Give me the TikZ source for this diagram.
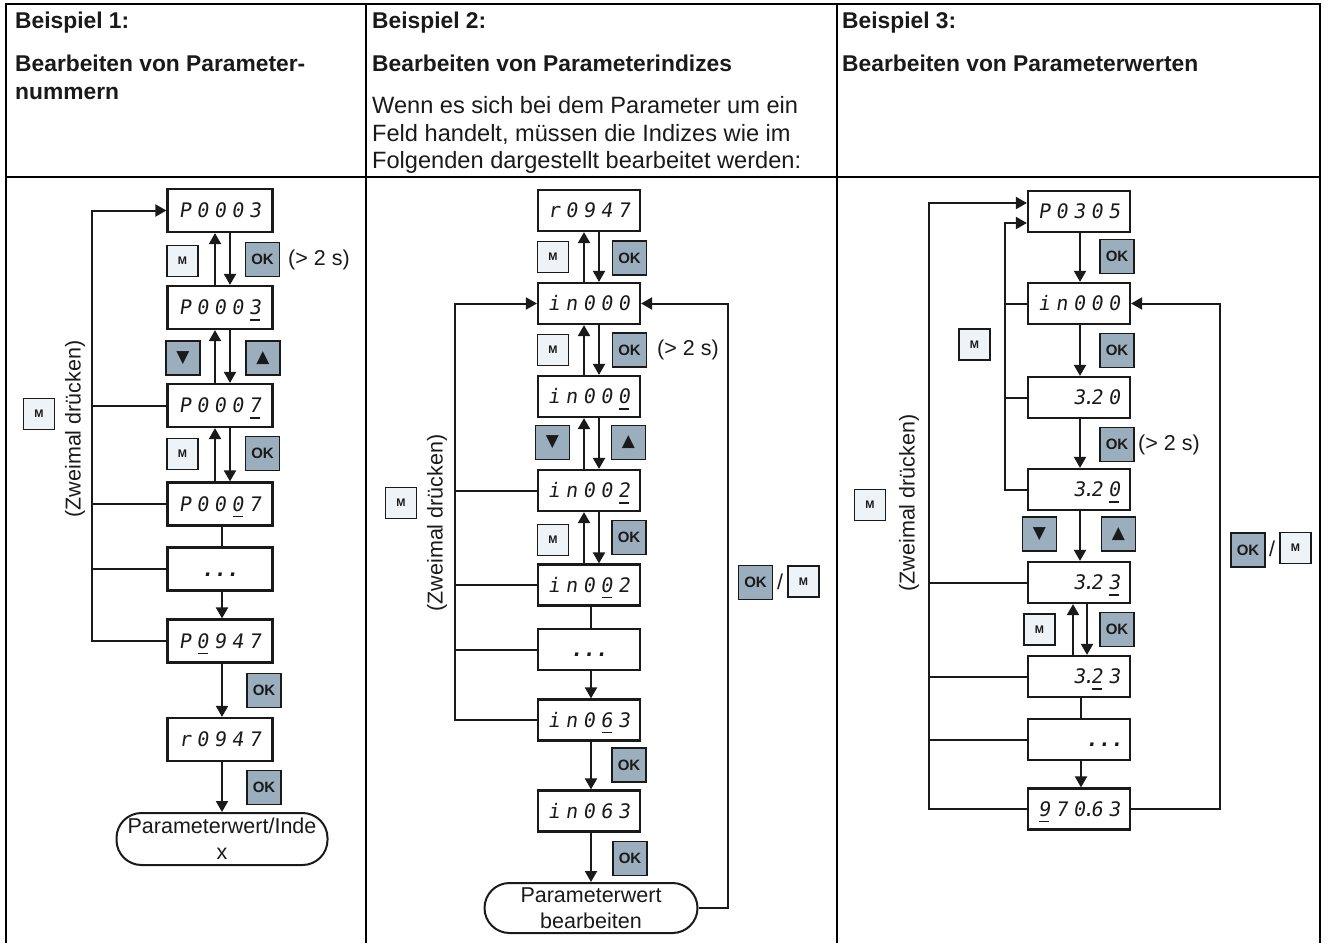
\documentclass[tikz,border=0pt]{standalone}
\usepackage{fontspec}
\setmainfont{Liberation Sans}
\newfontfamily\dispfont{DejaVu Sans Mono}[FakeSlant=0.15]
\newfontfamily\symfont{DejaVu Sans}
\usetikzlibrary{arrows.meta}
\definecolor{btnlight}{HTML}{EEF3F8}
\definecolor{btndark}{HTML}{9BAEBD}
\definecolor{ink}{HTML}{1A1A1A}
\newcommand\sgc[1]{\makebox[17.5pt][c]{#1}}
\newcommand\sgu[1]{\makebox[17.5pt][c]{\ooalign{#1\cr\hidewidth\raisebox{-6pt}{\rule{10pt}{1.8pt}}\hidewidth\cr}}}
\newcommand\sgp[1]{\makebox[17.5pt][c]{#1\rlap{\kern-3pt.}}}
\newcommand\sgdots{{\bfseries\makebox[12.5pt]{.}\makebox[12.5pt]{.}\makebox[12.5pt]{.}}}
\begin{document}
\begin{tikzpicture}[x=1pt,y=-1pt,
  every node/.style={font=\fontsize{21.5}{26}\selectfont, text=ink},
  tbl/.style={draw=black, line width=2.6pt},
  hdr/.style={anchor=base west, inner sep=0pt, font=\bfseries\fontsize{22.8}{26}\selectfont},
  body/.style={anchor=base west, inner sep=0pt, font=\fontsize{23.6}{28}\selectfont},
  disp/.style={draw=ink, line width=2.2pt, minimum width=102pt, minimum height=41pt, inner sep=0pt,
    font=\dispfont\fontsize{20}{20}\selectfont, text height=14.6pt, text depth=0pt},
  dispA/.style={disp, minimum width=105pt, minimum height=43pt},
  dispR/.style={disp, text width=88pt, align=right},
  mbtn/.style={draw=ink, line width=1.6pt, fill=btnlight, minimum width=31pt, minimum height=31pt,
    inner sep=0pt, font=\bfseries\fontsize{11}{11}\selectfont},
  okbtn/.style={draw=ink, line width=1.6pt, fill=btndark, minimum width=34pt, minimum height=34pt,
    inner sep=0pt, font=\bfseries\fontsize{15}{15}\selectfont},
  tribtn/.style={okbtn, font=\symfont\fontsize{17}{17}\selectfont},
  term/.style={draw=ink, line width=2pt, rounded corners=25pt, minimum width=211pt, minimum height=52pt,
    inner sep=0pt, align=center, font=\fontsize{21.5}{26}\selectfont},
  lbl/.style={inner sep=0pt},
  ln/.style={draw=ink, line width=2pt},
  arr/.style={ln, -{Triangle[length=11pt,width=12pt]}}
]
\fill[white] (0,0) rectangle (1330,943);
\useasboundingbox (0,0) rectangle (1330,943);

% table
\draw[tbl] (6,943) -- (6,4) -- (1320,4) -- (1320,943);
\draw[tbl] (6,177) -- (1320,177);
\draw[tbl] (366,4) -- (366,943);
\draw[tbl] (837,4) -- (837,943);

% headers
\node[hdr] (h1a) at (15,28) {Beispiel 1:};
\node[hdr] (h1b) at (15,71) {Bearbeiten von Parameter-};
\node[hdr] (h1c) at (15,99) {nummern};
\node[hdr] (h2a) at (372,28) {Beispiel 2:};
\node[hdr] (h2b) at (372,71) {Bearbeiten von Parameterindizes};
\node[body] (h2c) at (372,113) {Wenn es sich bei dem Parameter um ein};
\node[body] (h2d) at (372,141) {Feld handelt, müssen die Indizes wie im};
\node[body] (h2e) at (372,168) {Folgenden dargestellt bearbeitet werden:};
\node[hdr] (h3a) at (842,28) {Beispiel 3:};
\node[hdr] (h3b) at (842,71) {Bearbeiten von Parameterwerten};

% ================= column 1
\node[dispA] (a1) at (220,210.5) {\sgc{P}\sgc{0}\sgc{0}\sgc{0}\sgc{3}};
\node[dispA] (a2) at (220,307.5) {\sgc{P}\sgc{0}\sgc{0}\sgc{0}\sgu{3}};
\node[dispA] (a3) at (220,405.5) {\sgc{P}\sgc{0}\sgc{0}\sgc{0}\sgu{7}};
\node[dispA] (a4) at (220,504) {\sgc{P}\sgc{0}\sgc{0}\sgu{0}\sgc{7}};
\node[dispA] (a5) at (220,569) {\sgdots};
\node[dispA] (a6) at (220,641) {\sgc{P}\sgu{0}\sgc{9}\sgc{4}\sgc{7}};
\node[dispA] (a7) at (220,739.5) {\sgc{r}\sgc{0}\sgc{9}\sgc{4}\sgc{7}};
\node[term] (a8) at (222,839) {Parameterwert/Inde\\x};

\draw[arr] ([xshift=-5pt]a2.north) -- ([xshift=-5pt]a1.south);
\draw[arr] ([xshift=10pt]a1.south) -- ([xshift=10pt]a2.north);
\draw[arr] ([xshift=-5pt]a3.north) -- ([xshift=-5pt]a2.south);
\draw[arr] ([xshift=10pt]a2.south) -- ([xshift=10pt]a3.north);
\draw[arr] ([xshift=-5pt]a4.north) -- ([xshift=-5pt]a3.south);
\draw[arr] ([xshift=10pt]a3.south) -- ([xshift=10pt]a4.north);
\draw[ln] ([xshift=2pt]a4.south) -- ([xshift=2pt]a5.north);
\draw[arr] ([xshift=2pt]a5.south) -- ([xshift=2pt]a6.north);
\draw[arr] ([xshift=2pt]a6.south) -- ([xshift=2pt]a7.north);
\draw[arr] ([xshift=2pt]a7.south) -- (a8.north);

\coordinate (L1) at (92,210.5);
\draw[arr] (a6.west) -| (L1) -- (a1.west);
\draw[ln] (a3.west) -- (a3.west -| L1);
\draw[ln] (a4.west) -- (a4.west -| L1);
\draw[ln] (a5.west) -- (a5.west -| L1);

\node[lbl, rotate=90] (z1) at (75,429) {(Zweimal drücken)};
\node[mbtn] (m1) at (39,414) {M};

\node[mbtn] (b1) at (182.5,261) {M};
\node[okbtn] (b2) at (262.5,259.5) {OK};
\node[lbl, anchor=west] (t1) at (288,260) {(> 2 s)};
\node[tribtn] (b3) at (183,358) {▼};
\node[tribtn] (b4) at (263,358) {▲};
\node[mbtn] (b5) at (182.5,454) {M};
\node[okbtn] (b6) at (262.5,453.5) {OK};
\node[okbtn] (b7) at (264,690.5) {OK};
\node[okbtn] (b8) at (264,787.5) {OK};

% ================= column 2
\node[disp] (c1) at (589,210.5) {\sgc{r}\sgc{0}\sgc{9}\sgc{4}\sgc{7}};
\node[disp] (c2) at (589,303.5) {\sgc{i}\sgc{n}\sgc{0}\sgc{0}\sgc{0}};
\node[disp] (c3) at (589,396.5) {\sgc{i}\sgc{n}\sgc{0}\sgc{0}\sgu{0}};
\node[disp] (c4) at (589,490.5) {\sgc{i}\sgc{n}\sgc{0}\sgc{0}\sgu{2}};
\node[disp] (c5) at (589,585) {\sgc{i}\sgc{n}\sgc{0}\sgu{0}\sgc{2}};
\node[disp] (c6) at (589,649.5) {\sgdots};
\node[disp] (c7) at (589,720) {\sgc{i}\sgc{n}\sgc{0}\sgu{6}\sgc{3}};
\node[disp] (c8) at (589,811) {\sgc{i}\sgc{n}\sgc{0}\sgc{6}\sgc{3}};
\node[term, minimum width=213pt, minimum height=50pt] (c9) at (591,908) {Parameterwert\\bearbeiten};

\draw[arr] ([xshift=-5pt]c2.north) -- ([xshift=-5pt]c1.south);
\draw[arr] ([xshift=10pt]c1.south) -- ([xshift=10pt]c2.north);
\draw[arr] ([xshift=-5pt]c3.north) -- ([xshift=-5pt]c2.south);
\draw[arr] ([xshift=10pt]c2.south) -- ([xshift=10pt]c3.north);
\draw[arr] ([xshift=-5pt]c4.north) -- ([xshift=-5pt]c3.south);
\draw[arr] ([xshift=10pt]c3.south) -- ([xshift=10pt]c4.north);
\draw[arr] ([xshift=-5pt]c5.north) -- ([xshift=-5pt]c4.south);
\draw[arr] ([xshift=10pt]c4.south) -- ([xshift=10pt]c5.north);
\draw[ln] ([xshift=2pt]c5.south) -- ([xshift=2pt]c6.north);
\draw[arr] ([xshift=2pt]c6.south) -- ([xshift=2pt]c7.north);
\draw[arr] ([xshift=2pt]c7.south) -- ([xshift=2pt]c8.north);
\draw[arr] ([xshift=2pt]c8.south) -- (c9.north);

\coordinate (L2) at (455,303.5);
\draw[arr] (c7.west) -| (L2) -- (c2.west);
\draw[ln] (c4.west) -- (c4.west -| L2);
\draw[ln] (c5.west) -- (c5.west -| L2);
\draw[ln] (c6.west) -- (c6.west -| L2);
\coordinate (R2) at (728,303.5);
\draw[arr] (c9.east) -| (R2) -- (c2.east);

\node[lbl, rotate=90] (z2) at (437,523) {(Zweimal drücken)};
\node[mbtn] (m2) at (401,503) {M};

\node[mbtn] (e1) at (553,257) {M};
\node[okbtn] (e2) at (629.5,258) {OK};
\node[mbtn] (e3) at (553,350) {M};
\node[okbtn] (e4) at (629.5,350) {OK};
\node[lbl, anchor=west] (t2) at (657,350) {(> 2 s)};
\node[tribtn] (e5) at (552.5,442.5) {▼};
\node[tribtn] (e6) at (628.5,442.5) {▲};
\node[mbtn] (e7) at (553,540) {M};
\node[okbtn] (e8) at (629,537.5) {OK};
\node[okbtn] (e9) at (629,765) {OK};
\node[okbtn] (e10) at (630,858.5) {OK};
\node[okbtn] (e11) at (755.5,582.5) {OK};
\node[lbl] (s2) at (780,582) {/};
\node[mbtn] (e12) at (803.5,581.5) {M};

% ================= column 3
\node[dispR] (d1) at (1079,211.5) {\sgc{P}\sgc{0}\sgc{3}\sgc{0}\sgc{5}};
\node[dispR] (d2) at (1079,303.5) {\sgc{i}\sgc{n}\sgc{0}\sgc{0}\sgc{0}};
\node[dispR] (d3) at (1079,397.5) {\sgp{3}\sgc{2}\sgc{0}};
\node[dispR] (d4) at (1079,489.5) {\sgp{3}\sgc{2}\sgu{0}};
\node[dispR] (d5) at (1079,582.5) {\sgp{3}\sgc{2}\sgu{3}};
\node[dispR] (d6) at (1079,676.5) {\sgp{3}\sgu{2}\sgc{3}};
\node[dispR] (d7) at (1079,739.5) {\sgdots};
\node[dispR] (d8) at (1079,809) {\sgu{9}\sgc{7}\sgp{0}\sgc{6}\sgc{3}};

\draw[arr] ([xshift=1pt]d1.south) -- ([xshift=1pt]d2.north);
\draw[arr] ([xshift=1pt]d2.south) -- ([xshift=1pt]d3.north);
\draw[arr] ([xshift=1pt]d3.south) -- ([xshift=1pt]d4.north);
\draw[arr] ([xshift=1pt]d4.south) -- ([xshift=1pt]d5.north);
\draw[arr] ([xshift=-6pt]d6.north) -- ([xshift=-6pt]d5.south);
\draw[arr] ([xshift=8pt]d5.south) -- ([xshift=8pt]d6.north);
\draw[ln] ([xshift=2pt]d6.south) -- ([xshift=2pt]d7.north);
\draw[arr] ([xshift=2pt]d7.south) -- ([xshift=2pt]d8.north);

\coordinate (I3) at (1005,223);
\draw[arr] (d4.west) -| (I3) -- (I3 -| d1.west);
\draw[ln] (d2.west) -- (d2.west -| I3);
\draw[ln] (d3.west) -- (d3.west -| I3);
\coordinate (O3) at (929,203);
\draw[arr] (d8.west) -| (O3) -- (O3 -| d1.west);
\draw[ln] (d5.west) -- (d5.west -| O3);
\draw[ln] (d6.west) -- (d6.west -| O3);
\draw[ln] (d7.west) -- (d7.west -| O3);
\coordinate (R3) at (1220,303.5);
\draw[arr] (d8.east) -| (R3) -- (d2.east);

\node[lbl, rotate=90] (z3) at (909,503) {(Zweimal drücken)};
\node[mbtn] (m3) at (870,505) {M};

\node[okbtn] (f1) at (1117,256.5) {OK};
\node[mbtn] (f2) at (974.5,344.5) {M};
\node[okbtn] (f3) at (1117,350.5) {OK};
\node[okbtn] (f4) at (1117,444.5) {OK};
\node[lbl, anchor=west] (t3) at (1138,445) {(> 2 s)};
\node[tribtn] (f5) at (1039.5,534) {▼};
\node[tribtn] (f6) at (1118.5,534) {▲};
\node[mbtn] (f7) at (1039.5,629.5) {M};
\node[okbtn] (f8) at (1117,629.5) {OK};
\node[okbtn] (f9) at (1248,550) {OK};
\node[lbl] (s3) at (1272,549) {/};
\node[mbtn] (f10) at (1295.5,548) {M};
\end{tikzpicture}
\end{document}
